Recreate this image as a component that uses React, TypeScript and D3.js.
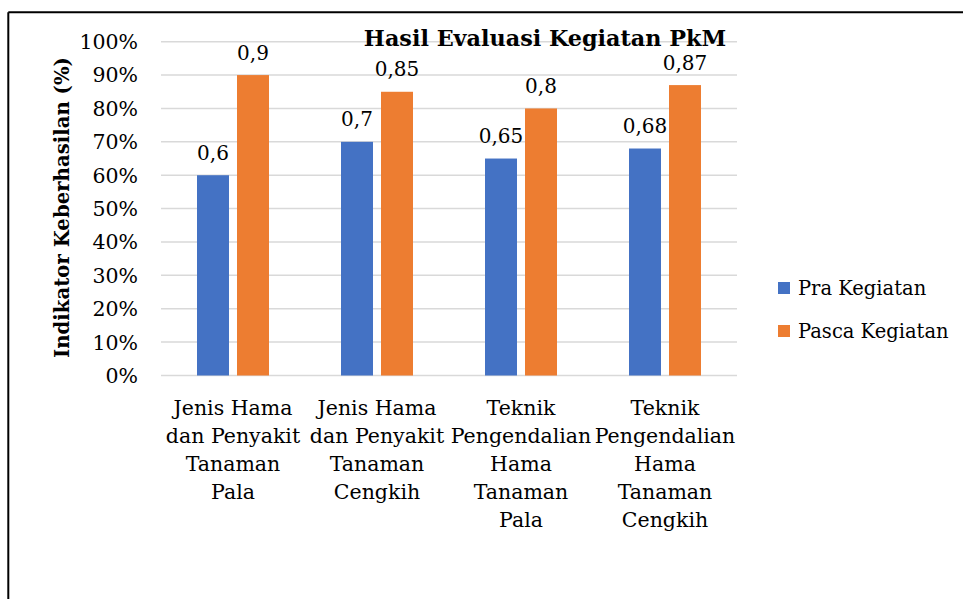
import React from "react";
import * as d3 from "d3";

const categories: string[][] = [
  ["Jenis Hama", "dan Penyakit", "Tanaman", "Pala"],
  ["Jenis Hama", "dan Penyakit", "Tanaman", "Cengkih"],
  ["Teknik", "Pengendalian", "Hama", "Tanaman", "Pala"],
  ["Teknik", "Pengendalian", "Hama", "Tanaman", "Cengkih"],
];
const seriesNames = ["Pra Kegiatan", "Pasca Kegiatan"];
const praValues = [0.6, 0.7, 0.65, 0.68];
const pascaValues = [0.9, 0.85, 0.8, 0.87];
const valueLabels = [["0,6", "0,7", "0,65", "0,68"], ["0,9", "0,85", "0,8", "0,87"]];
const yTicks = [0, 0.1, 0.2, 0.3, 0.4, 0.5, 0.6, 0.7, 0.8, 0.9, 1.0];
const colors = ["#4472C4", "#ED7D31"];

const FONT = "'DejaVu Serif', serif";

export default function App() {
  const W = 963, H = 599;
  const plotLeft = 161, plotRight = 737, plotTop = 41.7, plotBottom = 375.5;
  const y = d3.scaleLinear().domain([0, 1]).range([plotBottom, plotTop]);
  const x0 = d3.scaleBand<number>().domain(d3.range(categories.length)).range([plotLeft, plotRight]).paddingInner(0).paddingOuter(0);
  const barW = 32, gap = 8;
  const series = [praValues, pascaValues];
  const fmt = d3.format(".0%");
  return (
    <svg width={W} height={H} style={{ position: "absolute", left: 0, top: 0, background: "#fff" }} fontFamily={FONT}>
      <rect x={0} y={0} width={W} height={H} fill="#fff" />
      <line x1={8.3} x2={W} y1={12.2} y2={12.2} stroke="#000" strokeWidth={2} />
      <line x1={8.3} x2={8.3} y1={12.2} y2={H} stroke="#000" strokeWidth={2} />
      {yTicks.map((t) => (
        <g key={t}>
          <line x1={plotLeft} x2={plotRight} y1={y(t)} y2={y(t)} stroke="#D9D9D9" strokeWidth={1.5} />
          <text x={138} y={y(t)} dy="0.36em" textAnchor="end" fontSize={20.5} fill="#000">{fmt(t)}</text>
        </g>
      ))}
      {categories.map((c, i) => {
        const cx = (x0(i) as number) + x0.bandwidth() / 2;
        return (
          <g key={i}>
            {series.map((s, j) => {
              const bx = j === 0 ? cx - gap / 2 - barW : cx + gap / 2;
              return (
                <g key={j}>
                  <rect x={bx} y={y(s[i])} width={barW} height={y(0) - y(s[i])} fill={colors[j]} />
                  <text x={bx + barW / 2} y={y(s[i]) - 15.5} textAnchor="middle" fontSize={20} fill="#000">{valueLabels[j][i]}</text>
                </g>
              );
            })}
            <text x={cx} y={415} textAnchor="middle" fontSize={20.5} fill="#000">
              {c.map((line, k) => (
                <tspan key={k} x={cx} dy={k === 0 ? 0 : 28}>{line}</tspan>
              ))}
            </text>
          </g>
        );
      })}
      <text x={545} y={46} textAnchor="middle" fontSize={22.3} fontWeight="bold" fill="#000">Hasil Evaluasi Kegiatan PkM</text>
      <text transform={`translate(69,207.5) rotate(-90)`} textAnchor="middle" fontSize={19.7} fontWeight="bold" fill="#000">Indikator Keberhasilan (%)</text>
      {seriesNames.map((n, j) => (
        <g key={n}>
          <rect x={778} y={282 + j * 43} width={12} height={12} fill={colors[j]} />
          <text x={798} y={288 + j * 43} dy="0.36em" fontSize={19.5} fill="#000">{n}</text>
        </g>
      ))}
    </svg>
  );
}
